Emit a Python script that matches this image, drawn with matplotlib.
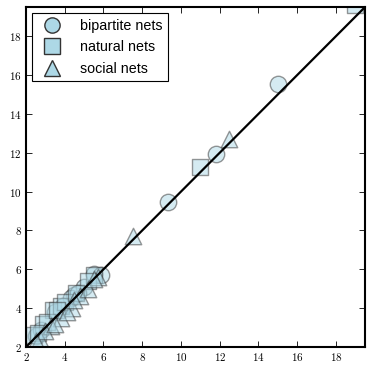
import matplotlib
matplotlib.use("Agg")
import matplotlib.pyplot as plt
from matplotlib.lines import Line2D

plt.rcParams['mathtext.fontset'] = 'cm'

bip_x = [15.0, 11.8, 9.35, 5.5, 5.85, 4.5, 4.3, 2.5, 5.0, 3.5, 3.9, 2.8, 4.7]
bip_y = [15.55, 11.95, 9.45, 5.75, 5.7, 4.7, 4.5, 2.55, 5.1, 3.8, 4.1, 2.9, 4.8]
nat_x = [11.0, 19.0, 5.5, 3.4, 3.8, 2.9, 3.1, 4.0, 5.2, 2.4, 4.6, 3.6, 2.6]
nat_y = [11.25, 19.6, 5.7, 3.9, 4.1, 3.2, 3.3, 4.3, 5.4, 2.6, 4.8, 3.9, 2.7]
soc_x = [12.5, 7.5, 4.4, 3.8, 3.3, 2.7, 4.8, 5.7, 3.0, 4.1, 5.2, 2.5, 3.5, 4.5, 5.5]
soc_y = [12.7, 7.7, 4.0, 3.5, 3.1, 2.4, 4.6, 5.6, 2.8, 3.8, 5.0, 2.3, 3.2, 4.4, 5.5]
ticks = [2, 4, 6, 8, 10, 12, 14, 16, 18]
lims = [2, 19.5]
labels = ['bipartite nets', 'natural nets', 'social nets']

fig = plt.figure(figsize=(3.73, 3.71), dpi=100)
ax = fig.add_axes([0.0697, 0.0647, 0.9089, 0.9163])

face = '#add8e6'
edge = '#333333'
kw = dict(s=140, facecolor=face, edgecolor=edge, alpha=0.5, linewidths=1.0, zorder=2)
ax.scatter(bip_x, bip_y, marker='o', **kw)
ax.scatter(nat_x, nat_y, marker='s', **kw)
ax.scatter(soc_x, soc_y, marker='^', **kw)
ax.plot(lims, lims, color='black', lw=1.6, zorder=3)

ax.set_xlim(lims)
ax.set_ylim(lims)
ax.set_xticks(ticks)
ax.set_yticks(ticks)
ax.set_xticklabels([r'$%d$' % t for t in ticks])
ax.set_yticklabels([r'$%d$' % t for t in ticks])
ax.tick_params(direction='in', top=True, right=True, length=4, width=0.6,
               labelsize=8, pad=3)
for sp in ax.spines.values():
    sp.set_linewidth(1.5)

handles = [Line2D([], [], ls='none', marker=m, markersize=11,
                  markerfacecolor=face, markeredgecolor='#333333',
                  markeredgewidth=1.0)
           for m in ['o', 's', '^']]
leg = ax.legend(handles, labels, loc='upper left', numpoints=1,
                prop={'family': 'Liberation Sans', 'size': 10.3},
                fancybox=False, edgecolor='black', framealpha=1,
                borderaxespad=0.45, handletextpad=0.9, labelspacing=0.5,
                borderpad=0.4)
leg.get_frame().set_linewidth(0.8)

fig.savefig('out.png', dpi=100)
